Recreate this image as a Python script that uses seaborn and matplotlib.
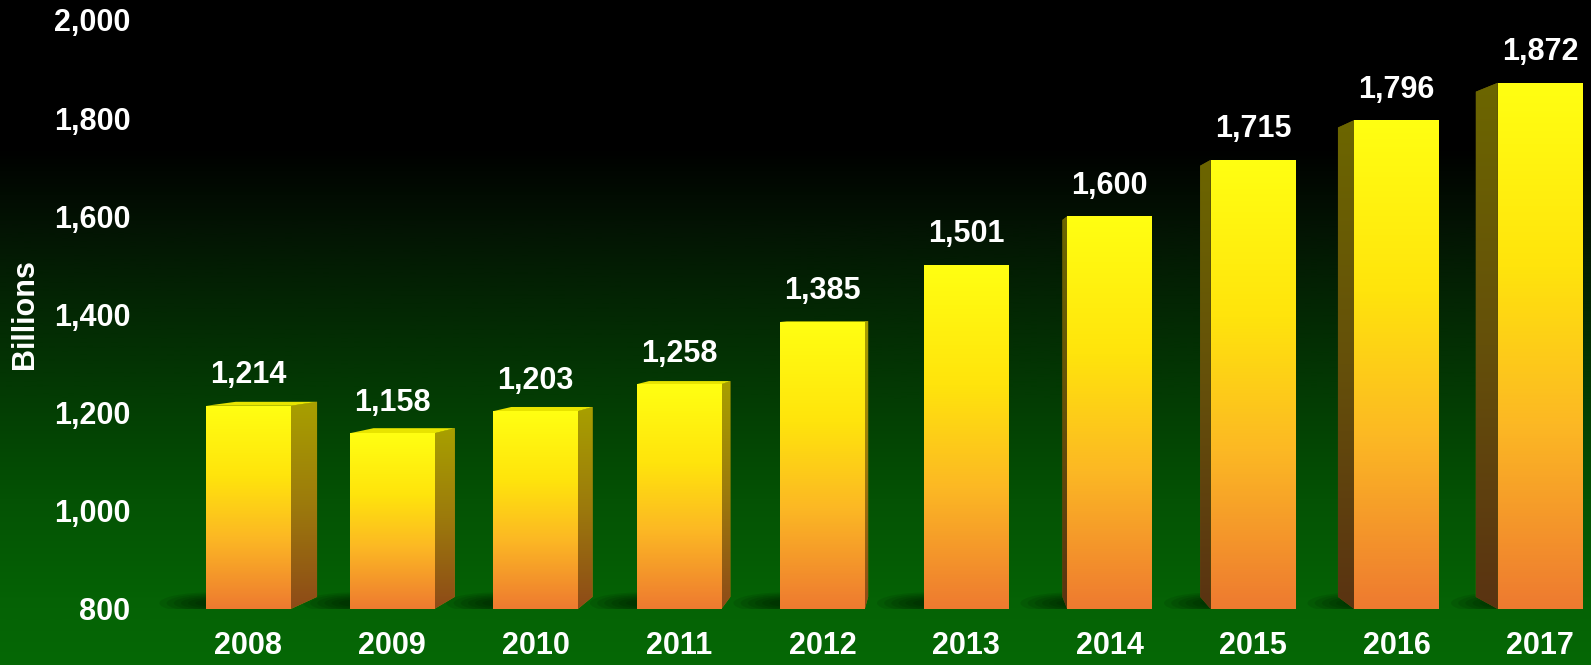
import numpy as np
import pandas as pd
import matplotlib
matplotlib.use("Agg")
import matplotlib.pyplot as plt
from matplotlib.colors import LinearSegmentedColormap
from matplotlib.patches import Polygon, Ellipse
import seaborn as sns

# ---------------- data ----------------
years = ["2008", "2009", "2010", "2011", "2012", "2013", "2014", "2015", "2016", "2017"]
values = [1214, 1158, 1203, 1258, 1385, 1501, 1600, 1715, 1796, 1872]
y_ticks = [800, 1000, 1200, 1400, 1600, 1800, 2000]
y_label = "Billions"

sns.set_theme(style="white")
plt.rcParams['font.family'] = ['Liberation Sans', 'DejaVu Sans']

W, H = 1591, 665
fig = plt.figure(figsize=(W / 100, H / 100), dpi=100)

# background gradient (black top -> green bottom)
bg = fig.add_axes([0, 0, 1, 1], zorder=0)
bg_cmap = LinearSegmentedColormap.from_list("bg", [
    (0.0, "#000000"), (0.22, "#000000"), (0.33, "#031203"), (0.47, "#032803"),
    (0.60, "#033c03"), (0.75, "#045204"), (0.90, "#056205"), (1.0, "#066806")])
grad = np.linspace(0, 1, 512).reshape(-1, 1)
bg.imshow(grad, aspect="auto", cmap=bg_cmap, extent=[0, 1, 0, 1], origin="upper")
bg.set_axis_off()

ax = fig.add_axes([150 / W, 56 / H, 1 - 150 / W, 609 / H], zorder=1)
ax.set_facecolor("none")

df = pd.DataFrame({"year": years, "value": values})
sns.barplot(data=df, x="year", y="value", ax=ax, width=0.59, color="#ffdd00",
            saturation=1, edgecolor="none", zorder=3)

FLOOR = y_ticks[0]
front_cmap = LinearSegmentedColormap.from_list("front", [
    (0.0, "#ffff12"), (0.35, "#ffe40c"), (0.65, "#fcb824"), (1.0, "#ee7a30")])
right_cmap = LinearSegmentedColormap.from_list("rside", [
    (0.0, "#a8a000"), (0.5, "#9c7a0c"), (1.0, "#8e4a18")])
left_cmap = LinearSegmentedColormap.from_list("lside", [
    (0.0, "#6c6600"), (0.5, "#65500a"), (1.0, "#5a3312")])

# perspective parameters (vanishing point in data coords, depth ratio)
t = 0.04
vpx, vpy = 4.87, 1417


def back(px, py):
    return px + t * (vpx - px), py + t * (vpy - py)


bars = list(ax.patches)
for i, bar in enumerate(bars):
    x0 = bar.get_x()
    w = bar.get_width()
    top = bar.get_height()
    cx = x0 + w / 2
    # soft floor shadow to the lower-left of each bar
    for k in range(6):
        e = Ellipse((x0 + 0.05, FLOOR + 12), 0.75 - 0.1 * k, 44 - 6 * k,
                    facecolor="black", edgecolor="none", alpha=0.09, zorder=1.5)
        ax.add_patch(e)
    # front gradient
    im = ax.imshow(grad, extent=[x0, x0 + w, FLOOR, top], aspect="auto",
                   cmap=front_cmap, origin="upper", zorder=3.1)
    im.set_clip_path(bar)
    # side face
    if x0 + w < vpx:
        edge, cm = x0 + w, right_cmap
    elif x0 > vpx:
        edge, cm = x0, left_cmap
    else:
        edge = None
    if edge is not None:
        bt = back(edge, top)
        bb = back(edge, FLOOR)
        pts = [(edge, FLOOR), (edge, top), bt, bb]
        poly = Polygon(pts, closed=True, facecolor=cm(0.3), edgecolor="none", zorder=2.5)
        ax.add_patch(poly)
        xs = [p[0] for p in pts]
        ys = [p[1] for p in pts]
        im2 = ax.imshow(grad, extent=[min(xs), max(xs), min(ys), max(ys)], aspect="auto",
                        cmap=cm, origin="upper", zorder=2.6)
        im2.set_clip_path(poly)
    # top face
    if top < vpy:
        pts = [(x0, top), (x0 + w, top), back(x0 + w, top), back(x0, top)]
        ax.add_patch(Polygon(pts, closed=True, facecolor="#e8e400", edgecolor="none", zorder=2.7))
    # value label
    ax.annotate(f"{values[i]:,}", (cx, top), xytext=(0, 22), textcoords="offset points",
                ha="center", va="center", color="white", fontsize=22, fontweight="bold",
                zorder=5)

ax.set_xlim(-0.686, 9.355)
ax.set_ylim(FLOOR, 2040.7)
ax.set_yticks(y_ticks)
ax.set_yticklabels([f"{v:,}" for v in y_ticks])
ax.set_xlabel("")
ax.set_ylabel("")
ax.tick_params(axis="both", colors="white", labelsize=22, length=0)
ax.tick_params(axis="y", pad=14)
ax.tick_params(axis="x", pad=16)
for lab in ax.get_xticklabels() + ax.get_yticklabels():
    lab.set_fontweight("bold")
    lab.set_color("white")
for s in ax.spines.values():
    s.set_visible(False)
ax.grid(False)

fig.text(25 / W, 1 - 314 / H, y_label, rotation=90, ha="center", va="center",
         color="white", fontsize=22, fontweight="bold")

fig.savefig("out.png", dpi=100)
